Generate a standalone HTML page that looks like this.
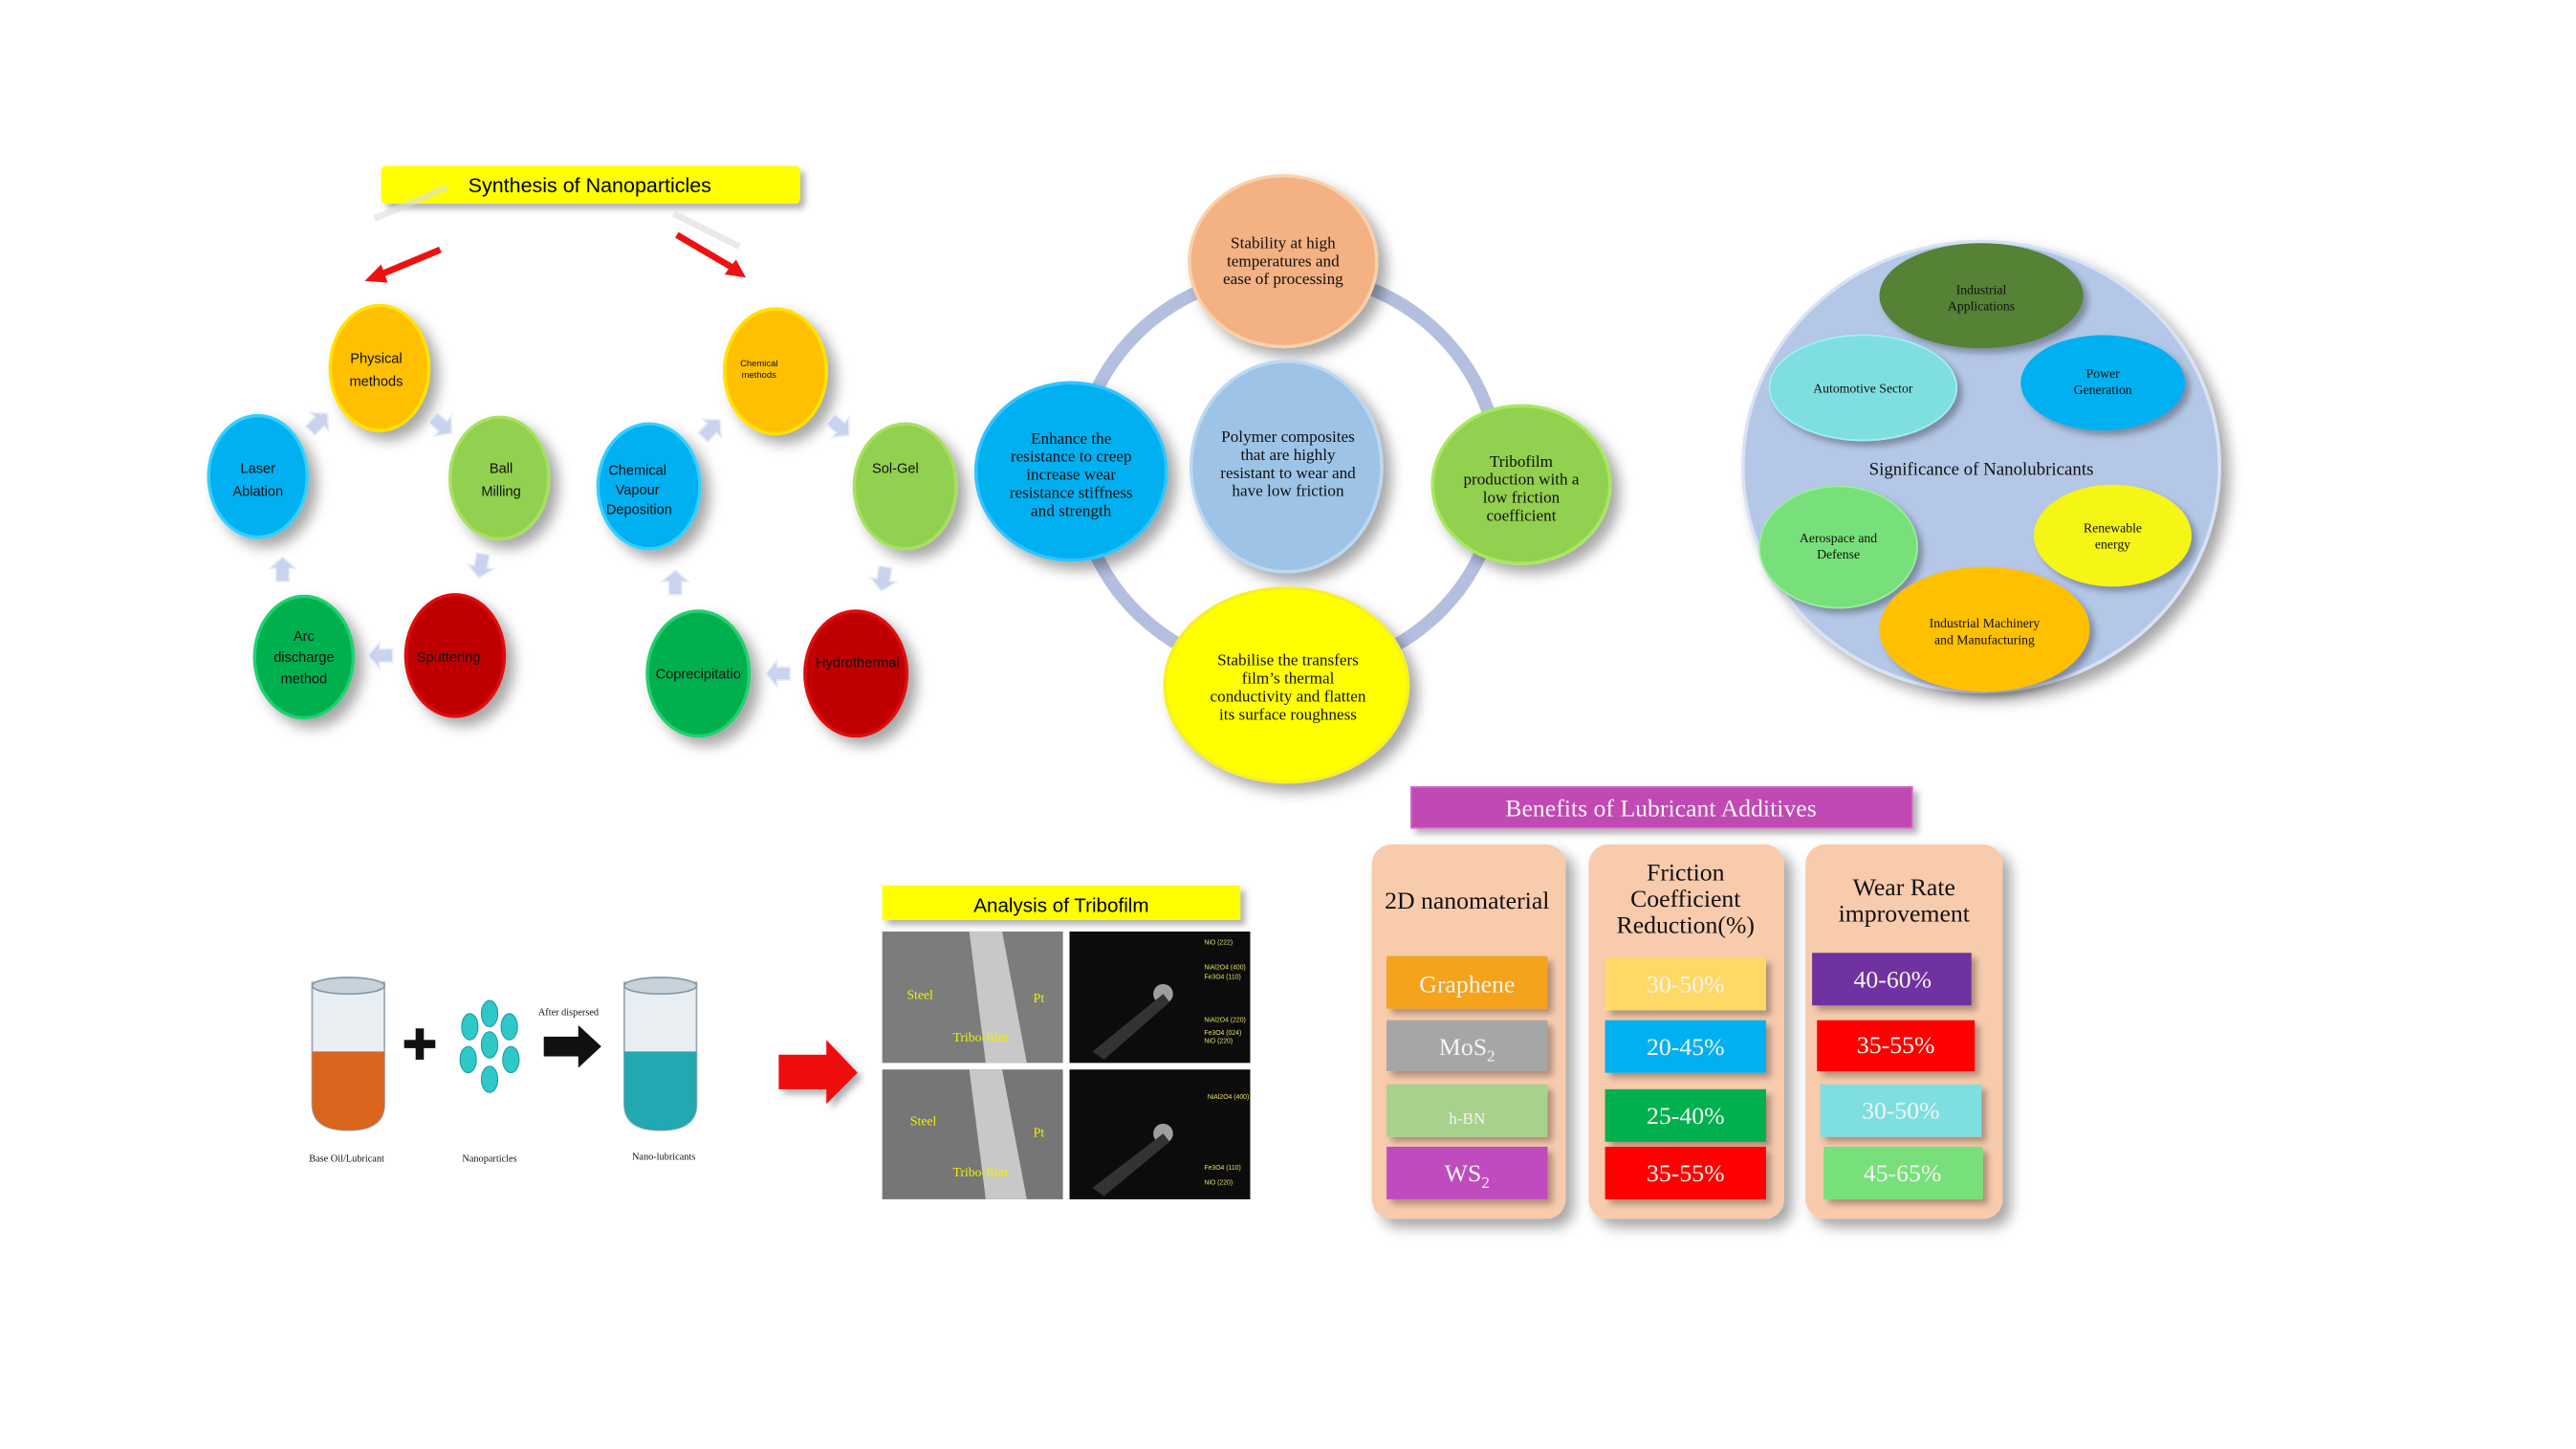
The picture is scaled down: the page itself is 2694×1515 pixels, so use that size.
<!DOCTYPE html>
<html><head><meta charset="utf-8"><style>
html,body{margin:0;padding:0;background:#fff;}
svg{display:block;}
.c{font-family:"Liberation Sans",sans-serif;font-size:8.5px;text-anchor:middle;fill:#111;}
.s{font-family:"Liberation Serif",serif;text-anchor:middle;fill:#111;}
.w{font-family:"Liberation Serif",serif;text-anchor:middle;fill:#f4f4f4;font-size:15px;}
</style></head><body>
<svg width="2694" height="1515" viewBox="0 0 1568 882" preserveAspectRatio="none" xmlns="http://www.w3.org/2000/svg">
<defs>
<filter id="sh" x="-30%" y="-30%" width="170%" height="170%"><feDropShadow dx="5" dy="5" stdDeviation="4" flood-color="#000" flood-opacity="0.35"/></filter>
<filter id="sh2" x="-30%" y="-30%" width="170%" height="170%"><feDropShadow dx="3" dy="3" stdDeviation="2" flood-color="#000" flood-opacity="0.3"/></filter>
<g id="ar"><polygon points="-6,-4 2,-4 2,-8 9,0 2,8 2,4 -6,4" fill="#c9d3ee" stroke="#e8edf8" stroke-width="1"/></g>
</defs>

<rect x="232" y="101" width="255" height="23" rx="3" fill="#ffff00" filter="url(#sh2)"/>
<text x="359" y="117" font-family="Liberation Sans,sans-serif" font-size="12.5" text-anchor="middle">Synthesis of Nanoparticles</text>
<line x1="228" y1="133" x2="272" y2="114" stroke="#ddd" stroke-width="4" opacity="0.6"/>
<line x1="410" y1="130" x2="450" y2="150" stroke="#ddd" stroke-width="4" opacity="0.6"/>
<line x1="268" y1="152" x2="232" y2="167" stroke="#ee1111" stroke-width="4"/>
<polygon points="222,171 232,161 236,172" fill="#ee1111"/>
<line x1="412" y1="143" x2="446" y2="163" stroke="#ee1111" stroke-width="4"/>
<polygon points="454,169 441,167 448,158" fill="#ee1111"/>

<g filter="url(#sh)">
<ellipse cx="231" cy="224" rx="30" ry="38" fill="#ffc000" stroke="#ffe200" stroke-width="2"/>
<ellipse cx="304" cy="291" rx="30" ry="37" fill="#92d050" stroke="#a8e060" stroke-width="2"/>
<ellipse cx="277" cy="399" rx="30" ry="37" fill="#c00000" stroke="#e01010" stroke-width="2"/>
<ellipse cx="185" cy="400" rx="30" ry="37" fill="#00b050" stroke="#20d070" stroke-width="2"/>
<ellipse cx="157" cy="290" rx="30" ry="37" fill="#00b0f0" stroke="#30d0ff" stroke-width="2"/>
</g>
<text class="c" x="229" y="221">Physical</text><text class="c" x="229" y="235">methods</text>
<text class="c" x="305" y="288">Ball</text><text class="c" x="305" y="302">Milling</text>
<text class="c" x="273" y="403">Sputtering</text>
<text class="c" x="185" y="390">Arc</text><text class="c" x="185" y="403">discharge</text><text class="c" x="185" y="416">method</text>
<text class="c" x="157" y="288">Laser</text><text class="c" x="157" y="302">Ablation</text>
<use href="#ar" transform="translate(193,258) rotate(-45)"/>
<use href="#ar" transform="translate(268,258) rotate(40)"/>
<use href="#ar" transform="translate(293,343) rotate(100)"/>
<use href="#ar" transform="translate(233,399) rotate(180)"/>
<use href="#ar" transform="translate(172,348) rotate(-90)"/>

<g filter="url(#sh)">
<ellipse cx="472" cy="226" rx="31" ry="38" fill="#ffc000" stroke="#ffe200" stroke-width="2"/>
<ellipse cx="551" cy="296" rx="31" ry="38" fill="#92d050" stroke="#a8e060" stroke-width="2"/>
<ellipse cx="521" cy="410" rx="31" ry="38" fill="#c00000" stroke="#e01010" stroke-width="2"/>
<ellipse cx="425" cy="410" rx="31" ry="38" fill="#00b050" stroke="#20d070" stroke-width="2"/>
<ellipse cx="395" cy="296" rx="31" ry="38" fill="#00b0f0" stroke="#30d0ff" stroke-width="2"/>
</g>
<text class="c" x="462" y="223" style="font-size:5.5px">Chemical</text>
<text class="c" x="462" y="230" style="font-size:5.5px">methods</text>
<text class="c" x="545" y="288">Sol-Gel</text>
<text class="c" x="522" y="406">Hydrothermal</text>
<text class="c" x="425" y="413">Coprecipitatio</text>
<text class="c" x="388" y="289">Chemical</text><text class="c" x="388" y="301">Vapour</text><text class="c" x="389" y="313">Deposition</text>
<use href="#ar" transform="translate(432,262) rotate(-45)"/>
<use href="#ar" transform="translate(510,259) rotate(40)"/>
<use href="#ar" transform="translate(538,351) rotate(100)"/>
<use href="#ar" transform="translate(475,410) rotate(180)"/>
<use href="#ar" transform="translate(411,356) rotate(-90)"/>

<ellipse cx="784" cy="288" rx="128" ry="122" fill="none" stroke="#b4bfe0" stroke-width="8"/>
<g filter="url(#sh)">
<ellipse cx="781" cy="159" rx="57" ry="52" fill="#f4b183" stroke="#fbd0a8" stroke-width="2"/>
<ellipse cx="783" cy="284" rx="58" ry="64" fill="#9dc3e6" stroke="#bcd8f2" stroke-width="2"/>
<ellipse cx="652" cy="287" rx="58" ry="54" fill="#00b0f0" stroke="#30c4ff" stroke-width="2"/>
<ellipse cx="926" cy="295" rx="54" ry="48" fill="#92d050" stroke="#a8e860" stroke-width="2"/>
<ellipse cx="783" cy="417" rx="74" ry="59" fill="#ffff00" stroke="#f8f020" stroke-width="2"/>
</g>
<g class="s" font-size="10">
<text x="781" y="151">Stability at high</text><text x="781" y="162">temperatures and</text><text x="781" y="173">ease of processing</text>
<text x="784" y="269">Polymer composites</text><text x="784" y="280">that are highly</text><text x="784" y="291">resistant to wear and</text><text x="784" y="302">have low friction</text>
<text x="652" y="270">Enhance the</text><text x="652" y="281">resistance to creep</text><text x="652" y="292">increase wear</text><text x="652" y="303">resistance stiffness</text><text x="652" y="314">and strength</text>
<text x="926" y="284">Tribofilm</text><text x="926" y="295">production with a</text><text x="926" y="306">low friction</text><text x="926" y="317">coefficient</text>
<text x="784" y="405">Stabilise the transfers</text><text x="784" y="416">film’s thermal</text><text x="784" y="427">conductivity and flatten</text><text x="784" y="438">its surface roughness</text>
</g>

<ellipse cx="1206" cy="284" rx="145" ry="137" fill="#b4c7e7" stroke="#d8e2f4" stroke-width="2" filter="url(#sh)"/>
<g filter="url(#sh2)">
<ellipse cx="1206" cy="180" rx="62" ry="32" fill="#548235"/>
<ellipse cx="1134" cy="236" rx="57" ry="32" fill="#7fdfe0" stroke="#a0f0f0"/>
<ellipse cx="1280" cy="233" rx="50" ry="29" fill="#00b0f0"/>
<ellipse cx="1119" cy="333" rx="48" ry="37" fill="#77e07a" stroke="#99f09a"/>
<ellipse cx="1286" cy="326" rx="48" ry="31" fill="#f5f516"/>
<ellipse cx="1208" cy="383" rx="64" ry="38" fill="#ffc000"/>
</g>
<g class="s" font-size="8">
<text x="1206" y="179">Industrial</text><text x="1206" y="189">Applications</text>
<text x="1134" y="239">Automotive Sector</text>
<text x="1280" y="230">Power</text><text x="1280" y="240">Generation</text>
<text x="1119" y="330">Aerospace and</text><text x="1119" y="340">Defense</text>
<text x="1286" y="324">Renewable</text><text x="1286" y="334">energy</text>
<text x="1208" y="382">Industrial Machinery</text><text x="1208" y="392">and Manufacturing</text>
</g>
<text class="s" x="1206" y="289" font-size="11">Significance of Nanolubricants</text>

<rect x="859" y="479" width="305" height="25" fill="#c149b4" stroke="#d070c8" filter="url(#sh2)"/>
<text class="w" x="1011" y="497">Benefits of Lubricant Additives</text>
<g filter="url(#sh)" fill="#f8cbad">
<rect x="835" y="514" width="118" height="228" rx="12"/>
<rect x="967" y="514" width="119" height="228" rx="12"/>
<rect x="1099" y="514" width="120" height="228" rx="12"/>
</g>
<g class="s" font-size="15">
<text x="893" y="553">2D nanomaterial</text>
<text x="1026" y="536">Friction</text><text x="1026" y="552">Coefficient</text><text x="1026" y="568">Reduction(%)</text>
<text x="1159" y="545">Wear Rate</text><text x="1159" y="561">improvement</text>
</g>
<g filter="url(#sh2)">
<rect x="844" y="582" width="98" height="32" fill="#f5a21a"/>
<rect x="844" y="621" width="98" height="31" fill="#a6a6a6"/>
<rect x="844" y="660" width="98" height="32" fill="#a9d18e"/>
<rect x="844" y="698" width="98" height="32" fill="#c04cbf"/>
<rect x="977" y="583" width="98" height="32" fill="#ffd966"/>
<rect x="977" y="621" width="98" height="32" fill="#00b0f0"/>
<rect x="977" y="663" width="98" height="32" fill="#00b050"/>
<rect x="977" y="698" width="98" height="32" fill="#ff0000"/>
<rect x="1103" y="580" width="97" height="32" fill="#7030a0"/>
<rect x="1106" y="621" width="96" height="31" fill="#ff0000"/>
<rect x="1108" y="660" width="98" height="32" fill="#7fdfe0"/>
<rect x="1110" y="698" width="97" height="32" fill="#77e07a"/>
</g>
<text class="w" x="893" y="604">Graphene</text>
<text class="w" x="893" y="642">MoS<tspan font-size="10" dy="4">2</tspan></text>
<text class="w" x="893" y="684" style="font-size:10px">h-BN</text>
<text class="w" x="893" y="719">WS<tspan font-size="10" dy="4">2</tspan></text>
<text class="w" x="1026" y="604">30-50%</text>
<text class="w" x="1026" y="642">20-45%</text>
<text class="w" x="1026" y="684">25-40%</text>
<text class="w" x="1026" y="719">35-55%</text>
<text class="w" x="1152" y="601">40-60%</text>
<text class="w" x="1154" y="641">35-55%</text>
<text class="w" x="1157" y="681">30-50%</text>
<text class="w" x="1158" y="719">45-65%</text>

<g>
<path d="M190,598 L234,598 L234,672 Q234,688 212,688 Q190,688 190,672 Z" fill="#e8eef2" stroke="#9aa8b4"/>
<path d="M190,640 L234,640 L234,672 Q234,688 212,688 Q190,688 190,672 Z" fill="#d9661c"/>
<ellipse cx="212" cy="600" rx="22" ry="5" fill="#c7d2da" stroke="#8898a6"/>
<path d="M380,598 L424,598 L424,672 Q424,688 402,688 Q380,688 380,672 Z" fill="#e8eef2" stroke="#9aa8b4"/>
<path d="M380,640 L424,640 L424,672 Q424,688 402,688 Q380,688 380,672 Z" fill="#21a8b0"/>
<ellipse cx="402" cy="600" rx="22" ry="5" fill="#c7d2da" stroke="#8898a6"/>
<rect x="246" y="633" width="19" height="5" fill="#111"/><rect x="253" y="626" width="5" height="19" fill="#111"/>
<g fill="#2ec8c8" stroke="#1a9aa0" stroke-width="0.6">
<ellipse cx="298" cy="617" rx="5" ry="8"/><ellipse cx="286" cy="625" rx="5" ry="8"/><ellipse cx="310" cy="625" rx="5" ry="8"/>
<ellipse cx="298" cy="636" rx="5" ry="8"/><ellipse cx="285" cy="645" rx="5" ry="8"/><ellipse cx="311" cy="645" rx="5" ry="8"/>
<ellipse cx="298" cy="657" rx="5" ry="8"/>
</g>
<polygon points="331,631 352,631 352,624 366,637 352,650 352,643 331,643" fill="#111"/>
<text x="346" y="618" class="s" font-size="6">After dispersed</text>
<text x="211" y="707" class="s" font-size="6">Base Oil/Lubricant</text>
<text x="298" y="707" class="s" font-size="6">Nanoparticles</text>
<text x="404" y="706" class="s" font-size="6">Nano-lubricants</text>
</g>
<polygon points="474,642 503,642 503,633 522,653 503,672 503,663 474,663" fill="#ee1111" filter="url(#sh2)"/>

<rect x="537" y="539" width="218" height="21" fill="#ffff00" filter="url(#sh2)"/>
<text x="646" y="555" font-family="Liberation Sans,sans-serif" font-size="12" text-anchor="middle">Analysis of Tribofilm</text>
<rect x="537" y="567" width="110" height="80" fill="#7c7c7c"/>
<rect x="537" y="651" width="110" height="79" fill="#767676"/>
<polygon points="590,567 610,567 625,647 600,647" fill="#c8c8c8"/>
<polygon points="590,651 610,651 625,730 600,730" fill="#c8c8c8"/>
<rect x="651" y="567" width="110" height="80" fill="#0c0c0c"/>
<rect x="651" y="651" width="110" height="79" fill="#0c0c0c"/>
<circle cx="708" cy="605" r="6" fill="#ddd" opacity="0.7"/>
<circle cx="708" cy="690" r="6" fill="#ddd" opacity="0.7"/>
<polygon points="708,605 712,610 672,645 665,640" fill="#333"/>
<polygon points="708,690 712,695 672,728 665,723" fill="#333"/>
<g font-family="Liberation Serif,serif" font-size="8" fill="#f0f000">
<text x="552" y="608">Steel</text><text x="629" y="610">Pt</text><text x="580" y="634">Tribo-film</text>
<text x="554" y="685">Steel</text><text x="629" y="692">Pt</text><text x="580" y="716">Tribo-film</text>
</g>
<g font-family="Liberation Sans,sans-serif" font-size="4" fill="#e0e060">
<text x="733" y="575">NiO (222)</text><text x="733" y="590">NiAl2O4 (400)</text><text x="733" y="596">Fe3O4 (110)</text>
<text x="733" y="622">NiAl2O4 (220)</text><text x="733" y="630">Fe3O4 (024)</text><text x="733" y="635">NiO (220)</text>
<text x="735" y="669">NiAl2O4 (400)</text><text x="733" y="712">Fe3O4 (110)</text><text x="733" y="721">NiO (220)</text>
</g>
</svg>
</body></html>
